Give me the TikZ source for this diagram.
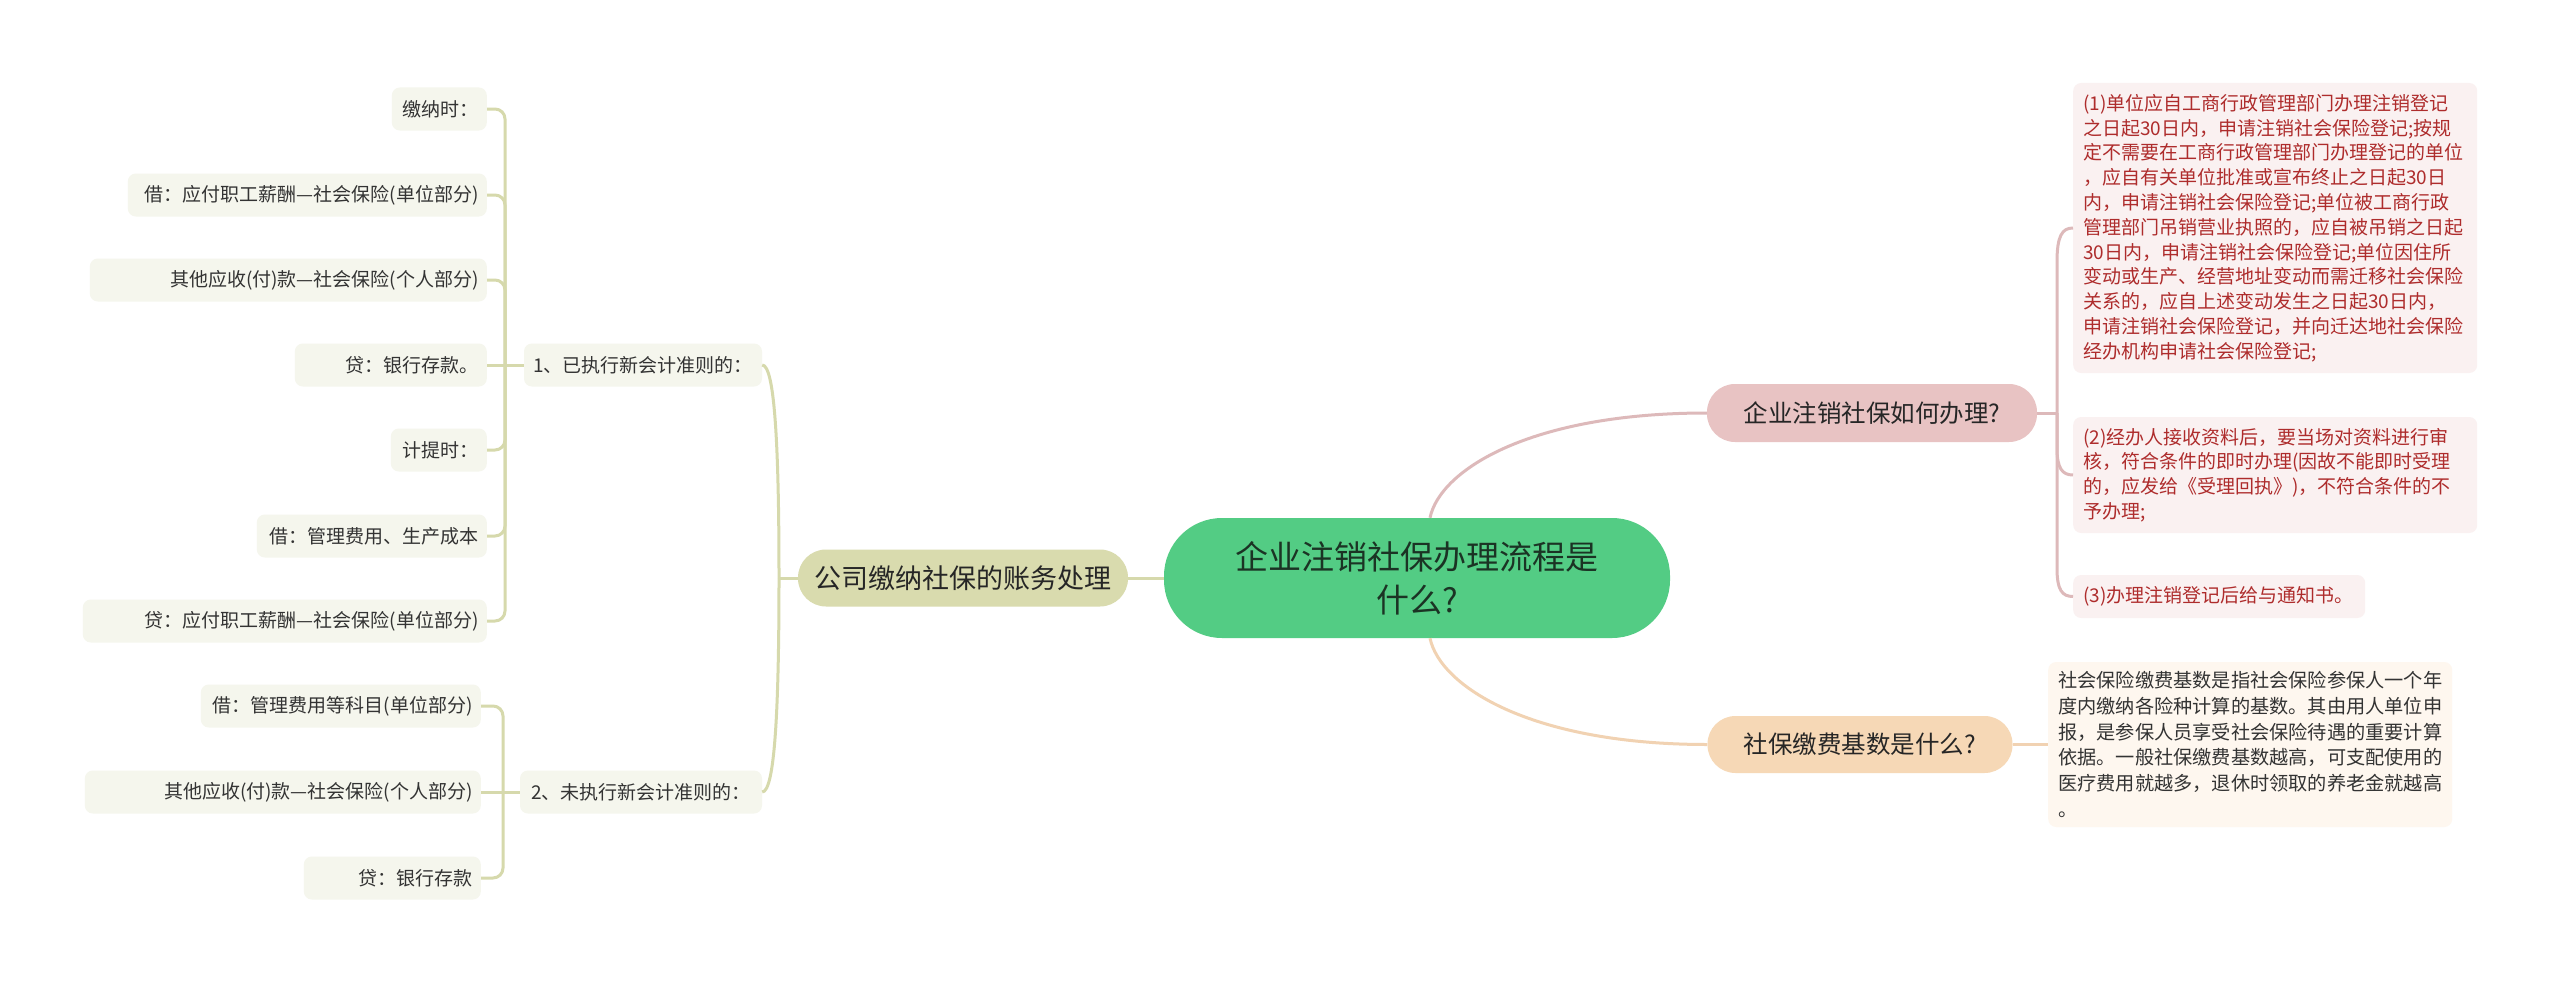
\documentclass[tikz,border=0pt]{standalone}
\usepackage{fontspec}
\setmainfont{Noto Sans CJK SC}
\usetikzlibrary{calc}
\definecolor{cgreen}{HTML}{53CC84}
\definecolor{ctext}{HTML}{1B3324}
\definecolor{olivefill}{HTML}{D9DBAE}
\definecolor{oliveline}{HTML}{D6D9AC}
\definecolor{leaffill}{HTML}{F5F6ED}
\definecolor{pinkfill}{HTML}{E8C3C3}
\definecolor{pinkline}{HTML}{DDB9BA}
\definecolor{pinkbox}{HTML}{FAF1F1}
\definecolor{redtext}{HTML}{AE2C2C}
\definecolor{peachfill}{HTML}{F6D8B6}
\definecolor{peachline}{HTML}{F1D2B2}
\definecolor{peachbox}{HTML}{FEF7EF}
\definecolor{darktext}{HTML}{333333}
\tikzset{
  central/.style={fill=cgreen, rounded corners=58pt, minimum width=506pt, minimum height=120pt,
    align=center, text=ctext, inner sep=0pt, font=\fontsize{33}{43}\selectfont},
  mainolive/.style={fill=olivefill, rounded corners=28pt, minimum width=330pt, minimum height=57pt,
    inner sep=0pt, text=black!85, font=\fontsize{27}{32}\selectfont},
  mainpink/.style={fill=pinkfill, rounded corners=28pt, minimum width=330pt, minimum height=58pt,
    inner sep=0pt, text=black!85, font=\fontsize{24.5}{30}\selectfont},
  mainpeach/.style={fill=peachfill, rounded corners=28pt, minimum width=305pt, minimum height=57pt,
    inner sep=0pt, text=black!85, font=\fontsize{24.5}{30}\selectfont},
  leafbox/.style={fill=leaffill, rounded corners=8pt, minimum height=43pt, inner xsep=8pt, inner ysep=0pt,
    align=right, anchor=east, text=darktext, font=\fontsize{19}{24}\selectfont},
  subbox/.style={fill=leaffill, rounded corners=8pt, minimum height=43pt, inner sep=0pt,
    text=darktext, font=\fontsize{19}{24}\selectfont},
  redbox/.style={fill=pinkbox, rounded corners=8pt, inner xsep=10pt, inner ysep=0pt, anchor=west,
    align=left, text=redtext, font=\fontsize{19}{24.8}\selectfont},
  descbox/.style={fill=peachbox, rounded corners=8pt, inner xsep=10pt, inner ysep=0pt, anchor=west,
    align=left, text=darktext, font=\fontsize{19.2}{25.7}\selectfont},
  oliveedge/.style={draw=oliveline, line width=3pt},
  pinkedge/.style={draw=pinkline, line width=3pt},
  peachedge/.style={draw=peachline, line width=3pt},
}
\begin{document}
\begin{tikzpicture}[x=1pt,y=-1pt]
\useasboundingbox (0,0) rectangle (2560,982);
\fill[white] (0,0) rectangle (2560,982);

% central
\node[central] (c) at (1417,578) {企业注销社保办理流程是\\什么?};

% main branches
\node[mainolive] (ol) at (963,578) {公司缴纳社保的账务处理};
\node[mainpink] (pk) at (1872,413) {企业注销社保如何办理?};
\node[mainpeach] (pc) at (1860,744.5) {社保缴费基数是什么?};

% left sub-branches
\node[subbox, minimum width=238pt] (p1) at (643,365) {1、已执行新会计准则的：};
\node[subbox, minimum width=242pt] (p2) at (641,792) {2、未执行新会计准则的：};

% leaves of subtree 1
\node[leafbox, text width=79pt] (l1) at (487,109) {缴纳时：};
\node[leafbox, text width=343pt] (l2) at (487,195) {借：应付职工薪酬—社会保险(单位部分)};
\node[leafbox, text width=381pt] (l3) at (487,280) {其他应收(付)款—社会保险(个人部分)};
\node[leafbox, text width=176pt] (l4) at (487,365) {贷：银行存款。};
\node[leafbox, text width=80pt] (l5) at (487,450) {计提时：};
\node[leafbox, text width=214pt] (l6) at (487,536) {借：管理费用、生产成本};
\node[leafbox, text width=388pt] (l7) at (487,621) {贷：应付职工薪酬—社会保险(单位部分)};

% leaves of subtree 2
\node[leafbox, text width=264pt] (m1) at (481,706) {借：管理费用等科目(单位部分)};
\node[leafbox, text width=380pt] (m2) at (481,792) {其他应收(付)款—社会保险(个人部分)};
\node[leafbox, text width=161pt] (m3) at (481,878) {贷：银行存款};

% right boxes
\node[redbox, text width=384pt, minimum height=290pt] (b1) at (2073,228) {(1)单位应自工商行政管理部门办理注销登记\\之日起30日内，申请注销社会保险登记;按规\\定不需要在工商行政管理部门办理登记的单位\\，应自有关单位批准或宣布终止之日起30日\\内，申请注销社会保险登记;单位被工商行政\\管理部门吊销营业执照的，应自被吊销之日起\\30日内，申请注销社会保险登记;单位因住所\\变动或生产、经营地址变动而需迁移社会保险\\关系的，应自上述变动发生之日起30日内，\\申请注销社会保险登记，并向迁达地社会保险\\经办机构申请社会保险登记;};
\node[redbox, text width=384pt, minimum height=116pt] (b2) at (2073,475) {(2)经办人接收资料后，要当场对资料进行审\\核，符合条件的即时办理(因故不能即时受理\\的，应发给《受理回执》)，不符合条件的不\\予办理;};
\node[redbox, text width=272pt, minimum height=43pt] (b3) at (2073,596.5) {(3)办理注销登记后给与通知书。};

\node[descbox, text width=384pt, minimum height=165pt] (d) at (2048,744.5) {社会保险缴费基数是指社会保险参保人一个年\\度内缴纳各险种计算的基数。其由用人单位申\\报，是参保人员享受社会保险待遇的重要计算\\依据。一般社保缴费基数越高，可支配使用的\\医疗费用就越多，退休时领取的养老金就越高\\。};

% connectors: central
\draw[oliveedge] (ol.east) -- (c.west);
\draw[pinkedge] ($(c.north)+(13,0)$) .. controls (1440,470) and (1530,413) .. (pk.west);
\draw[peachedge] ($(c.south)+(13,0)$) .. controls (1440,686) and (1530,744.5) .. (pc.west);

% olive to sub-branches
\draw[oliveedge] (ol.west) -- (779,578);
\draw[oliveedge] (p1.east) .. controls (775,365) and (779,450) .. (779,578);
\draw[oliveedge] (p2.east) .. controls (775,792) and (779,706) .. (779,578);

% subtree 1 bracket
\draw[oliveedge, rounded corners=10pt] (l1.east) -- (505,109) -- (505,365);
\draw[oliveedge, rounded corners=10pt] (l2.east) -- (505,195) -- (505,365);
\draw[oliveedge, rounded corners=10pt] (l3.east) -- (505,280) -- (505,365);
\draw[oliveedge] (l4.east) -- (p1.west);
\draw[oliveedge, rounded corners=10pt] (l5.east) -- (505,450) -- (505,365);
\draw[oliveedge, rounded corners=10pt] (l6.east) -- (505,536) -- (505,365);
\draw[oliveedge, rounded corners=10pt] (l7.east) -- (505,621) -- (505,365);

% subtree 2 bracket
\draw[oliveedge, rounded corners=10pt] (m1.east) -- (503,706) -- (503,792);
\draw[oliveedge] (m2.east) -- (p2.west);
\draw[oliveedge, rounded corners=10pt] (m3.east) -- (503,878) -- (503,792);

% pink bracket
\coordinate (pj) at (2057,413);
\draw[pinkedge] (pk.east) -- (pj);
\draw[pinkedge] (pj) -- (2057,262) .. controls (2057,236) and (2062,228) .. (b1.west);
\draw[pinkedge] (pj) -- (2057,448) .. controls (2057,468) and (2062,475) .. (b2.west);
\draw[pinkedge] (pj) -- (2057,568) .. controls (2057,590) and (2062,596.5) .. (b3.west);

% peach
\draw[peachedge] (pc.east) -- (d.west);
\end{tikzpicture}
\end{document}
